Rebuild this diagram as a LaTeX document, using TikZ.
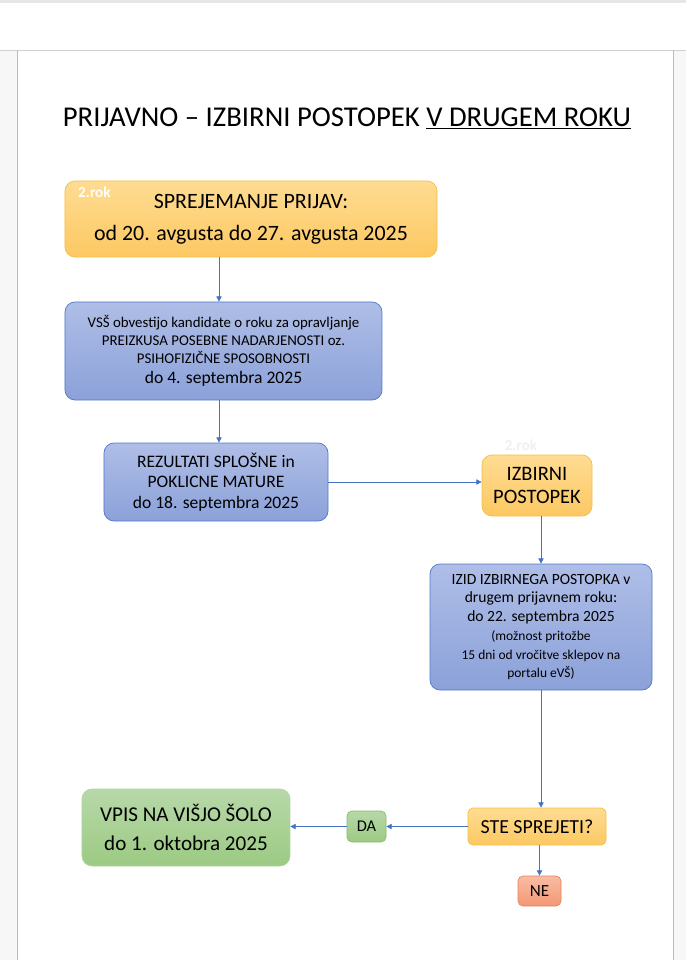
\documentclass[tikz,border=0pt]{standalone}
\usepackage{fontspec}
\setmainfont{Carlito}
\usetikzlibrary{arrows.meta, positioning}

\definecolor{orangetop}{HTML}{FFDC92}
\definecolor{orangebot}{HTML}{FCC862}
\definecolor{orangeline}{HTML}{F5BF45}
\definecolor{bluetop}{HTML}{AFBEE7}
\definecolor{bluebot}{HTML}{8BA1D9}
\definecolor{blueline}{HTML}{5279C8}
\definecolor{greentop}{HTML}{B7D8A8}
\definecolor{greenbot}{HTML}{9CCA83}
\definecolor{greenline}{HTML}{86BA6C}
\definecolor{redtop}{HTML}{F9BCA3}
\definecolor{redbot}{HTML}{F29875}
\definecolor{redline}{HTML}{E8825E}
\definecolor{arrowblue}{HTML}{4472C4}
\definecolor{chromegray}{HTML}{E6E6E6}
\definecolor{sidegray}{HTML}{F7F7F7}
\definecolor{chromeline}{HTML}{D0D0D0}

\tikzset{
  box/.style={rounded corners=0.3cm, align=center, inner sep=0pt, line width=0.6pt},
  orangebox/.style={box, draw=orangeline, top color=orangetop, bottom color=orangebot},
  bluebox/.style={box, draw=blueline, top color=bluetop, bottom color=bluebot},
  greenbox/.style={box, draw=greenline, top color=greentop, bottom color=greenbot},
  redbox/.style={box, draw=redline, top color=redtop, bottom color=redbot},
  smallbox/.style={rounded corners=0.15cm},
  roklabel/.style={font=\fontsize{13}{15}\selectfont\bfseries, inner sep=0pt},
  arr/.style={-{Triangle[width=4.5pt,length=4.5pt]}, draw=arrowblue, line width=0.6pt},
}

\begin{document}
\begin{tikzpicture}[x=0.03cm, y=-0.03cm]
  \useasboundingbox (0,0) rectangle (686,960);
  % page frame
  \fill[chromegray] (0,0) rectangle (686,3);
  \fill[sidegray] (0,51) rectangle (17,960);
  \fill[sidegray] (674,51) rectangle (686,960);
  \draw[chromeline] (0,50.5) -- (686,50.5);
  \draw[chromeline!90!black] (17.5,50.5) -- (17.5,960);
  \draw[chromeline!90!black] (673.5,50.5) -- (673.5,960);

  % title
  \node (title) at (347,118) {\fontsize{24.5}{28}\selectfont PRIJAVNO – IZBIRNI POSTOPEK \underline{V DRUGEM ROKU}};

  % boxes
  \node[orangebox, minimum width=11.16cm, minimum height=2.28cm,
        font=\fontsize{18.7}{27}\selectfont] (prijave) at (251,219)
        {SPREJEMANJE PRIJAV:\\od 20. avgusta do 27. avgusta 2025};
  \node[roklabel, white, anchor=north west] (rok1) at (78,187) {2.rok};

  \node[bluebox, minimum width=9.51cm, minimum height=2.94cm,
        font=\fontsize{12.7}{15.3}\selectfont] (obvestilo) at (223.5,351)
        {VSŠ obvestijo kandidate o roku za opravljanje\\
         PREIZKUSA POSEBNE NADARJENOSTI oz.\\
         PSIHOFIZIČNE SPOSOBNOSTI\\[2pt]
         {\fontsize{15}{17}\selectfont do 4. septembra 2025}};

  \node[bluebox, minimum width=6.72cm, minimum height=2.34cm,
        font=\fontsize{15}{17.4}\selectfont] (matura) at (216,482)
        {REZULTATI SPLOŠNE in\\POKLICNE MATURE\\do 18. septembra 2025};

  \node[orangebox, minimum width=3.3cm, minimum height=1.83cm,
        font=\fontsize{17.5}{19.6}\selectfont] (izbirni) at (537,485.5)
        {IZBIRNI\\POSTOPEK};
  \node[roklabel, black!6] (rok2) at (521,445) {2.rok};

  \node[bluebox, minimum width=6.66cm, minimum height=3.78cm,
        font=\fontsize{13.3}{16}\selectfont] (izid) at (541,627)
        {IZID IZBIRNEGA POSTOPKA v\\drugem prijavnem roku:\\do 22. septembra 2025\\
         {\fontsize{11.5}{14.5}\selectfont (možnost pritožbe}\\
         {\fontsize{11.5}{14.5}\selectfont 15 dni od vročitve sklepov na}\\
         {\fontsize{11.5}{14.5}\selectfont portalu eVŠ)}};

  \node[orangebox, smallbox, minimum width=4.14cm, minimum height=1.11cm,
        font=\fontsize{17}{19}\selectfont] (sprejeti) at (537,826.5)
        {STE SPREJETI?};

  \node[greenbox, smallbox, minimum width=1.17cm, minimum height=0.93cm,
        font=\fontsize{14}{16}\selectfont] (da) at (366.5,826.5) {DA};

  \node[redbox, smallbox, minimum width=1.29cm, minimum height=0.9cm,
        font=\fontsize{14.5}{16}\selectfont] (ne) at (539.5,891) {NE};

  \node[greenbox, draw=greentop!80!greenbot, minimum width=6.24cm, minimum height=2.31cm,
        font=\fontsize{18}{24}\selectfont] (vpis) at (186,827.5)
        {VPIS NA VIŠJO ŠOLO\\do 1. oktobra 2025};

  % connectors
  \coordinate (col1) at (219,0);
  \draw[arr] (prijave.south -| col1) -- (obvestilo.north -| col1);
  \draw[arr] (obvestilo.south -| col1) -- (matura.north -| col1);
  \draw[arr] (matura.east) -- (matura.east -| izbirni.west);
  \draw[arr] (izid.north |- izbirni.south) -- (izid.north);
  \draw[arr] (izid.south) -- (izid.south |- sprejeti.north);
  \draw[arr] (sprejeti.west) -- (da.east);
  \draw[arr] (da.west) -- (da.west -| vpis.east);
  \draw[arr] (sprejeti.south -| ne.north) -- (ne.north);
\end{tikzpicture}
\end{document}
